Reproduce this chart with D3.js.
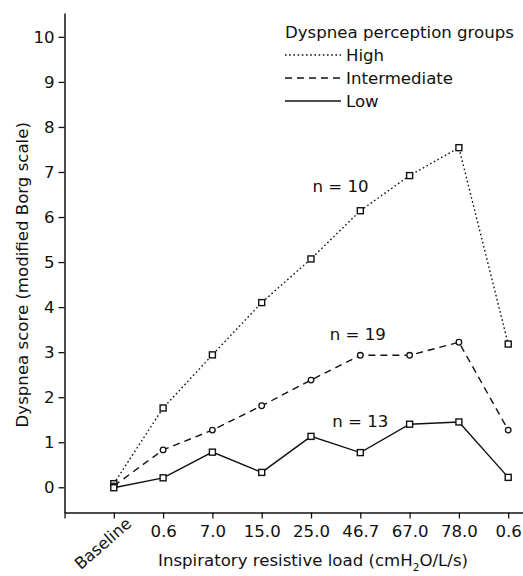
<!DOCTYPE html>
<html>
<head>
<meta charset="utf-8">
<script src="https://cdn.jsdelivr.net/npm/d3@7"></script>
<style>
  html, body { margin: 0; padding: 0; background: #fff; }
  svg text { font-family: "DejaVu Sans", "Open Sans", sans-serif; fill: #111; }
</style>
</head>
<body>
<svg id="chart" width="523" height="576"></svg>
<script>
// ---- data ----
const categories = ["Baseline", "0.6", "7.0", "15.0", "25.0", "46.7", "67.0", "78.0", "0.6"];
const highValues = [0.08, 1.76, 2.94, 4.10, 5.07, 6.14, 6.92, 7.54, 3.18];
const intermediateValues = [0.03, 0.83, 1.27, 1.81, 2.38, 2.93, 2.93, 3.22, 1.27];
const lowValues = [-0.01, 0.21, 0.78, 0.33, 1.13, 0.77, 1.40, 1.45, 0.22];
const yTicks = [0, 1, 2, 3, 4, 5, 6, 7, 8, 9, 10];
const seriesNames = ["High", "Intermediate", "Low"];
const groupLabels = ["n = 10", "n = 19", "n = 13"];
// annotation anchors in data units (category index, score)
const labelIndex = [4.6, 4.95, 5.0];
const labelScore = [6.56, 3.27, 1.34];

// ---- layout ----
const FONT = "'DejaVu Sans', 'Open Sans', sans-serif";
const FS = 16.6;
const svg = d3.select("#chart");
const x = d3.scaleLinear().domain([-1, 8.3]).range([64.5, 523]);
const y = d3.scaleLinear().domain([-0.56, 10.53]).range([512.5, 13]);

const styles = {
  High: { dash: "1.6,2.6", marker: "square", width: 1.4 },
  Intermediate: { dash: "7,5", marker: "circle", width: 1.4 },
  Low: { dash: null, marker: "square", width: 1.4 }
};
const seriesData = [highValues, intermediateValues, lowValues];

// axes
const xAxis = d3.axisBottom(x)
  .tickValues(d3.range(-1, 9))
  .tickSize(6)
  .tickSizeOuter(0)
  .tickFormat(i => (i >= 1 ? categories[i] : ""));
const gx = svg.append("g").attr("transform", `translate(0,${y(-0.56)})`).call(xAxis);
gx.select(".domain").attr("stroke", "#111").attr("stroke-width", 1.5);
gx.selectAll(".tick line").attr("stroke", "#111").attr("stroke-width", 1.3);
gx.selectAll(".tick text").attr("font-size", FS).attr("dy", "0.95em").attr("fill", "#111")
  .attr("font-family", FONT);
// rotated Baseline label
gx.append("text")
  .attr("transform", `translate(${x(0) + 11},${4}) rotate(-41)`)
  .attr("text-anchor", "end")
  .attr("font-size", FS - 0.4)
  .attr("dy", "0.72em")
  .text(categories[0]);

const yAxis = d3.axisLeft(y).tickValues(yTicks).tickSize(6).tickSizeOuter(0).tickPadding(4);
const gy = svg.append("g").attr("transform", `translate(${x(-1)},0)`).call(yAxis);
gy.select(".domain").attr("stroke", "#111").attr("stroke-width", 1.5);
gy.selectAll(".tick text").attr("font-size", FS).attr("fill", "#111")
  .attr("font-family", FONT);
gy.selectAll(".tick line").attr("stroke", "#111").attr("stroke-width", 1.3);

// axis titles
svg.append("text")
  .attr("transform", `translate(28,${(y(10.53) + y(-0.56)) / 2 + 12}) rotate(-90)`)
  .attr("text-anchor", "middle")
  .attr("font-size", FS)
  .text("Dyspnea score (modified Borg scale)");

const xt = svg.append("text")
  .attr("x", 313).attr("y", 566)
  .attr("text-anchor", "middle")
  .attr("font-size", FS);
xt.append("tspan").text("Inspiratory resistive load (cmH");
xt.append("tspan").attr("font-size", 10.5).attr("dy", 5).text("2");
xt.append("tspan").attr("dy", -5).text("O/L/s)");

// lines
const line = d3.line().x((d, i) => x(i)).y(d => y(d));
seriesNames.forEach((name, k) => {
  const st = styles[name];
  const vals = seriesData[k];
  svg.append("path")
    .datum(vals)
    .attr("d", line)
    .attr("fill", "none")
    .attr("stroke", "#111")
    .attr("stroke-width", st.width)
    .attr("stroke-dasharray", st.dash);
  const g = svg.append("g");
  if (st.marker === "square") {
    g.selectAll("rect").data(vals).join("rect")
      .attr("x", (d, i) => x(i) - 3)
      .attr("y", d => y(d) - 3)
      .attr("width", 6).attr("height", 6)
      .attr("fill", "#fff").attr("stroke", "#111").attr("stroke-width", 1.4);
  } else {
    g.selectAll("circle").data(vals).join("circle")
      .attr("cx", (d, i) => x(i))
      .attr("cy", d => y(d))
      .attr("r", 2.8)
      .attr("fill", "#fff").attr("stroke", "#111").attr("stroke-width", 1.3);
  }
});

// group size annotations
groupLabels.forEach((t, k) => {
  svg.append("text")
    .attr("x", x(labelIndex[k]))
    .attr("y", y(labelScore[k]))
    .attr("text-anchor", "middle")
    .attr("font-size", FS)
    .text(t);
});

// legend
const lg = svg.append("g");
lg.append("text").attr("x", 285).attr("y", 38).attr("font-size", FS).text("Dyspnea perception groups");
seriesNames.forEach((name, k) => {
  const by = 61 + k * 23;
  lg.append("line")
    .attr("x1", 285).attr("x2", 341)
    .attr("y1", by - 6).attr("y2", by - 6)
    .attr("stroke", "#111").attr("stroke-width", 1.4)
    .attr("stroke-dasharray", styles[name].dash);
  lg.append("text").attr("x", 346).attr("y", by).attr("font-size", FS).text(name);
});
</script>
</body>
</html>
